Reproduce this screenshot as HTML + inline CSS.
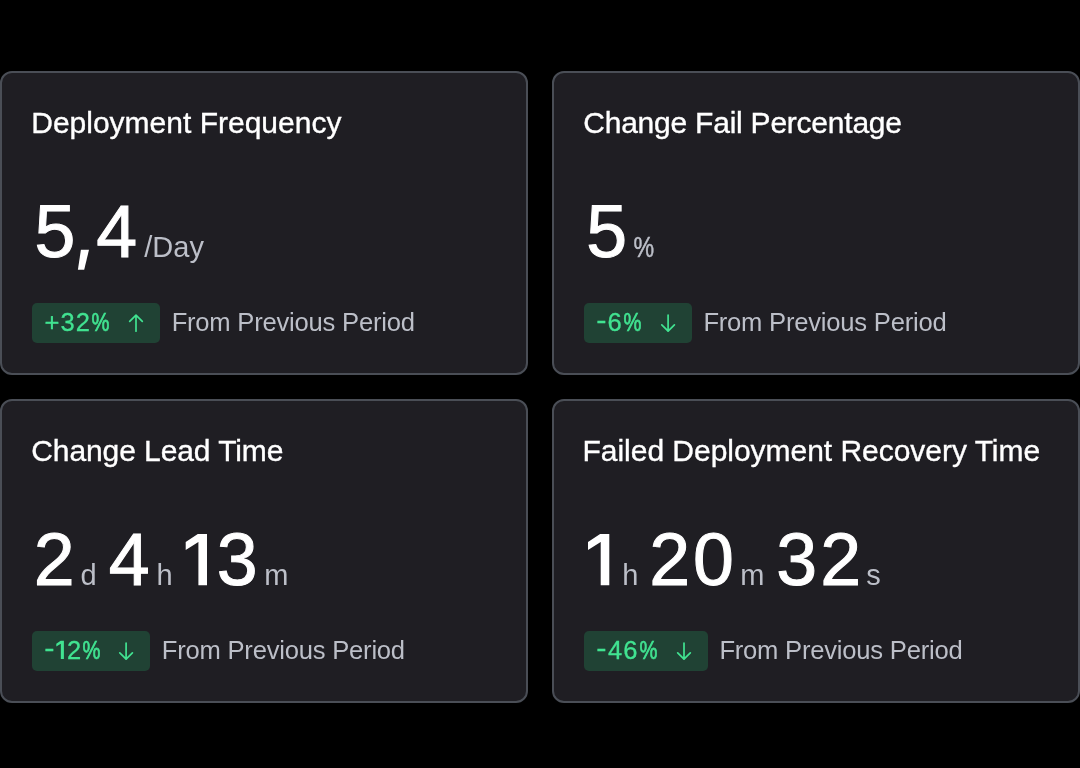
<!DOCTYPE html>
<html lang="en">
<head>
<meta charset="utf-8">
<title>DORA Metrics</title>
<style>
html,body{margin:0;padding:0;background:#000;}
body{width:1080px;height:768px;position:relative;overflow:hidden;font-family:"Liberation Sans",sans-serif;}
.card{position:absolute;box-sizing:border-box;width:528px;height:304px;background:#1f1e23;border:2px solid #4a4e56;border-radius:12px;will-change:transform;}
.t{position:absolute;white-space:nowrap;line-height:1;font-weight:400;}
.ttl{font-size:30px;color:#fff;-webkit-text-stroke:0.35px #fff;}
.big{font-size:73.5px;color:#fff;-webkit-text-stroke:1px #fff;}
.unit{font-size:29px;color:#bcbfc8;}
.sub{font-size:25.6px;color:#bcbfc8;}
.bdg{font-size:25.5px;color:#41e391;-webkit-text-stroke:0.3px #41e391;}
.sq{-webkit-text-stroke-width:0.7px;}
.squ{-webkit-text-stroke:0.5px #bcbfc8;}
.gh{color:transparent;-webkit-text-stroke:0 transparent;}
.badge{position:absolute;height:40px;background:#204234;border-radius:5px;}
.vec{position:absolute;left:0;top:0;overflow:visible;pointer-events:none;}
</style>
</head>
<body>
<div class="card" style="left:0px;top:71px">
  <span class="t ttl" style="left:29.24px;top:35px;">Deployment Frequency</span>
  <span class="t big" style="left:32.38px;top:122px;">5</span>
  <span class="t big gh" style="left:71.39px;top:122px;">,</span>
  <span class="t big" style="left:94.24px;top:122px;">4</span>
  <span class="t unit" style="left:142.3px;top:160px;">/Day</span>
  <div class="badge" style="left:30px;top:230px;width:128px"></div>
  <span class="t bdg" style="left:42.56px;top:237px;">+</span>
  <span class="t bdg" style="left:58.58px;top:237px;">3</span>
  <span class="t bdg" style="left:73.81px;top:237px;">2</span>
  <span class="t bdg sq" style="left:86.91px;top:237px;transform:scaleX(0.79);transform-origin:11.34px 50%;">%</span>
  <span class="t sub" style="left:169.65px;top:237px;letter-spacing:-0.22px">From Previous Period</span>
  <svg class="vec" width="524" height="300"><g transform="translate(-2 -73)"><path d="M80.9 249.8L89 249.8L84.2 269.8L77.9 269.8Z" fill="#fff"/><path d="M136 331.15V315.05M129.7 321.35L136 315.05L142.3 321.35" fill="none" stroke="#41e391" stroke-width="1.7" stroke-linecap="round" stroke-linejoin="round"/></g></svg>
</div>
<div class="card" style="left:552px;top:71px">
  <span class="t ttl" style="left:29.28px;top:35px;letter-spacing:-0.23px">Change Fail Percentage</span>
  <span class="t big" style="left:32.18px;top:122px;">5</span>
  <span class="t unit squ" style="left:76.71px;top:160px;transform:scaleX(0.8);transform-origin:12.89px 50%;">%</span>
  <div class="badge" style="left:30px;top:230px;width:108px"></div>
  <span class="t bdg" style="left:43.15px;top:235px;transform:scaleX(1.2);transform-origin:4.25px 50%;">-</span>
  <span class="t bdg" style="left:53.47px;top:237px;">6</span>
  <span class="t bdg sq" style="left:67.26px;top:237px;transform:scaleX(0.79);transform-origin:11.34px 50%;">%</span>
  <span class="t sub" style="left:149.4px;top:237px;letter-spacing:-0.22px">From Previous Period</span>
  <svg class="vec" width="524" height="300"><g transform="translate(-554 -73)"><path d="M668.1 315.05V331.15M661.8 324.85L668.1 331.15L674.4 324.85" fill="none" stroke="#41e391" stroke-width="1.7" stroke-linecap="round" stroke-linejoin="round"/></g></svg>
</div>
<div class="card" style="left:0px;top:399px">
  <span class="t ttl" style="left:29.28px;top:35px;letter-spacing:-0.09px">Change Lead Time</span>
  <span class="t big" style="left:31.76px;top:122px;">2</span>
  <span class="t unit" style="left:78.46px;top:160px;">d</span>
  <span class="t big" style="left:106.79px;top:122px;">4</span>
  <span class="t unit" style="left:154.42px;top:160px;">h</span>
  <span class="t big gh" style="left:173.56px;top:122px;">1</span>
  <span class="t big" style="left:214.68px;top:122px;">3</span>
  <span class="t unit" style="left:262.16px;top:160px;">m</span>
  <div class="badge" style="left:30px;top:230px;width:118px"></div>
  <span class="t bdg" style="left:43.15px;top:235px;transform:scaleX(1.2);transform-origin:4.25px 50%;">-</span>
  <span class="t bdg gh" style="left:51.46px;top:237px;">1</span>
  <span class="t bdg" style="left:64.91px;top:237px;">2</span>
  <span class="t bdg sq" style="left:77.96px;top:237px;transform:scaleX(0.79);transform-origin:11.34px 50%;">%</span>
  <span class="t sub" style="left:159.8px;top:237px;letter-spacing:-0.22px">From Previous Period</span>
  <svg class="vec" width="524" height="300"><g transform="translate(-2 -401)"><path d="M197.8 533.9 L207 533.9 L207 585.2 L198.4 585.2 L198.4 541.9 L185.7 549.9 L185.7 542.1Z" fill="#fff"/><path d="M60.62 640.79 L63.9 640.79 L63.9 659.1 L60.83 659.1 L60.83 643.64 L56.3 646.5 L56.3 643.71Z" fill="#41e391"/><path d="M126.1 643.05V659.15M119.8 652.85L126.1 659.15L132.4 652.85" fill="none" stroke="#41e391" stroke-width="1.7" stroke-linecap="round" stroke-linejoin="round"/></g></svg>
</div>
<div class="card" style="left:552px;top:399px">
  <span class="t ttl" style="left:28.54px;top:35px;letter-spacing:-0.03px">Failed Deployment Recovery Time</span>
  <span class="t big gh" style="left:23.86px;top:122px;">1</span>
  <span class="t unit" style="left:68.22px;top:160px;">h</span>
  <span class="t big" style="left:95.36px;top:122px;">2</span>
  <span class="t big" style="left:139.11px;top:122px;">0</span>
  <span class="t unit" style="left:186.16px;top:160px;">m</span>
  <span class="t big" style="left:222.18px;top:122px;">3</span>
  <span class="t big" style="left:266.26px;top:122px;">2</span>
  <span class="t unit" style="left:312.17px;top:160px;">s</span>
  <div class="badge" style="left:30px;top:230px;width:124px"></div>
  <span class="t bdg" style="left:43.15px;top:235px;transform:scaleX(1.2);transform-origin:4.25px 50%;">-</span>
  <span class="t bdg" style="left:53.89px;top:237px;">4</span>
  <span class="t bdg" style="left:69.32px;top:237px;">6</span>
  <span class="t bdg sq" style="left:82.91px;top:237px;transform:scaleX(0.79);transform-origin:11.34px 50%;">%</span>
  <span class="t sub" style="left:165.4px;top:237px;letter-spacing:-0.22px">From Previous Period</span>
  <svg class="vec" width="524" height="300"><g transform="translate(-554 -401)"><path d="M600.1 533.9 L609.3 533.9 L609.3 585.2 L600.7 585.2 L600.7 541.9 L588 549.9 L588 542.1Z" fill="#fff"/><path d="M684 643.05V659.15M677.7 652.85L684 659.15L690.3 652.85" fill="none" stroke="#41e391" stroke-width="1.7" stroke-linecap="round" stroke-linejoin="round"/></g></svg>
</div>
</body>
</html>
